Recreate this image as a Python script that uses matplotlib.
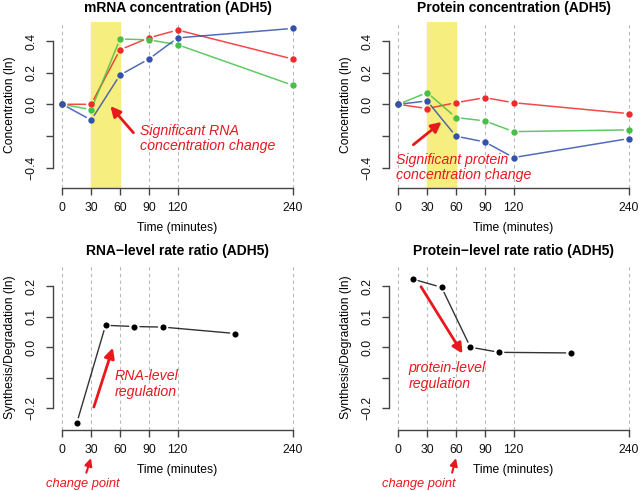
import numpy as np
import matplotlib
matplotlib.use('Agg')
import matplotlib.pyplot as plt

plt.rcParams['font.family'] = ['Liberation Sans', 'DejaVu Sans']

# time points (minutes)
times = [0, 30, 60, 90, 120, 240]
mid_times = [15, 45, 75, 105, 180]
xticks = [0, 30, 60, 90, 120, 240]

# mRNA concentration (ln), three replicates
mrna_red = [0.0, 0.0, 0.345, 0.42, 0.47, 0.286]
mrna_green = [0.0, -0.034, 0.413, 0.408, 0.377, 0.12]
mrna_blue = [0.0, -0.10, 0.185, 0.286, 0.42, 0.48]

# protein concentration (ln)
prot_red = [0.0, -0.027, 0.01, 0.042, 0.01, -0.059]
prot_green = [0.0, 0.074, -0.084, -0.105, -0.173, -0.162]
prot_blue = [0.0, 0.021, -0.202, -0.238, -0.337, -0.217]

# synthesis/degradation rate ratios (ln)
rna_ratio = [-0.25, 0.072, 0.068, 0.066, 0.045]
prot_ratio = [0.224, 0.197, 0.0, -0.017, -0.019]

RED = '#ee2a2a'
GREEN = '#48bf48'
BLUE = '#3452ad'
AX_COL = '#444444'
ANN = '#e8181e'

fig = plt.figure(figsize=(6.4, 4.91), dpi=100)
fig.patch.set_facecolor('white')

def setup(ax, ylim, yticks, ylabels, title, ylabel):
    ax.set_xlim(-9.6, 249.6)
    ax.set_ylim(*ylim)
    for s in ['top', 'right']:
        ax.spines[s].set_visible(False)
    for s in ['left', 'bottom']:
        ax.spines[s].set_color(AX_COL)
        ax.spines[s].set_linewidth(1.0)
    ax.spines['bottom'].set_bounds(0, 240)
    ax.spines['left'].set_bounds(yticks[0], yticks[-1])
    ax.set_xticks(xticks)
    ax.set_xticklabels([str(t) for t in xticks])
    ax.set_yticks(yticks)
    ax.set_yticklabels(ylabels, rotation=90, va='center')
    ax.tick_params(colors=AX_COL, labelcolor='#111111', labelsize=8.7, length=5, width=1.0)
    ax.tick_params(axis='y', pad=6)
    ax.tick_params(axis='x', pad=5)
    for t in xticks:
        ax.axvline(t, color='#b8b8b8', ls=(0, (3, 3)), lw=0.8, zorder=0)
    ax.set_title(title, fontsize=10, fontweight='bold', pad=7)
    ax.set_xlabel('Time (minutes)', fontsize=8.7, labelpad=6)
    ax.set_ylabel(ylabel, fontsize=8.7, labelpad=7)

def gapped(ax, x, y, color, lw=1.1, alpha=0.85, ms=4.6):
    for i in range(len(x) - 1):
        ax.annotate('', xy=(x[i + 1], y[i + 1]), xytext=(x[i], y[i]),
                    arrowprops=dict(arrowstyle='-', color=color, lw=lw, alpha=alpha,
                                    shrinkA=4, shrinkB=4), zorder=2)
    ax.plot(x, y, 'o', color=color, ms=ms, mec='none', zorder=3)

def red_arrow(ax, head, tail, lw=2, hl=0.6, hw=0.3):
    ax.annotate('', xy=head, xytext=tail, annotation_clip=False,
                arrowprops=dict(arrowstyle='-|>,head_length=%g,head_width=%g' % (hl, hw),
                                color=ANN, lw=lw, shrinkA=0, shrinkB=0))

conc_ticks = [-0.4, -0.2, 0.0, 0.2, 0.4]
conc_labels = ['\u22120.4', '', '0.0', '0.2', '0.4']
ratio_ticks = [-0.2, -0.1, 0.0, 0.1, 0.2]
ratio_labels = ['\u22120.2', '', '0.0', '0.1', '0.2']

# ---- top left: mRNA concentration
ax1 = fig.add_axes([0.083, 0.617, 0.389, 0.338])
setup(ax1, (-0.53, 0.52), conc_ticks, conc_labels, 'mRNA concentration (ADH5)', 'Concentration (ln)')
ax1.axvspan(30, 60, color='#f6ee7e', zorder=0.5)
gapped(ax1, times, mrna_red, RED)
gapped(ax1, times, mrna_green, GREEN)
gapped(ax1, times, mrna_blue, BLUE)
red_arrow(ax1, (50, -0.012), (74, -0.18))
ax1.text(81, -0.216, 'Significant RNA\nconcentration change', color=ANN, fontsize=10.2,
         style='italic', va='center', ha='left', linespacing=1.15)

# ---- top right: protein concentration
ax2 = fig.add_axes([0.608, 0.617, 0.389, 0.338])
setup(ax2, (-0.53, 0.52), conc_ticks, conc_labels, 'Protein concentration (ADH5)', 'Concentration (ln)')
ax2.axvspan(30, 60, color='#f6ee7e', zorder=0.5)
gapped(ax2, times, prot_red, RED)
gapped(ax2, times, prot_green, GREEN)
gapped(ax2, times, prot_blue, BLUE)
red_arrow(ax2, (45, -0.112), (15.6, -0.256))
ax2.text(-2, -0.40, 'Significant protein\nconcentration change', color=ANN, fontsize=10.2,
         style='italic', va='center', ha='left', linespacing=1.15)

# ---- bottom left: RNA-level rate ratio
ax3 = fig.add_axes([0.083, 0.124, 0.389, 0.336])
setup(ax3, (-0.273, 0.27), ratio_ticks, ratio_labels, 'RNA\u2212level rate ratio (ADH5)', 'Synthesis/Degradation (ln)')
gapped(ax3, mid_times, rna_ratio, 'black', lw=1.0, alpha=0.8, ms=4.4)
red_arrow(ax3, (52.6, -0.002), (32.8, -0.197))
ax3.text(54.3, -0.122, 'RNA-level\nregulation', color=ANN, fontsize=10.2,
         style='italic', va='center', ha='left', linespacing=1.15)
red_arrow(ax3, (29.8, -0.365), (25.0, -0.413), lw=1.5, hl=0.45, hw=0.22)
ax3.text(21.8, -0.45, 'change point', color=ANN, fontsize=9.3, style='italic',
         ha='center', va='center', clip_on=False)

# ---- bottom right: protein-level rate ratio
ax4 = fig.add_axes([0.608, 0.124, 0.389, 0.336])
setup(ax4, (-0.273, 0.27), ratio_ticks, ratio_labels, 'Protein\u2212level rate ratio (ADH5)', 'Synthesis/Degradation (ln)')
gapped(ax4, mid_times, prot_ratio, 'black', lw=1.0, alpha=0.8, ms=4.4)
red_arrow(ax4, (66.8, -0.021), (23.6, 0.199))
ax4.text(10.7, -0.095, 'protein-level\nregulation', color=ANN, fontsize=10.2,
         style='italic', va='center', ha='left', linespacing=1.15)
red_arrow(ax4, (60.0, -0.365), (56.0, -0.413), lw=1.5, hl=0.45, hw=0.22)
ax4.text(21.8, -0.45, 'change point', color=ANN, fontsize=9.3, style='italic',
         ha='center', va='center', clip_on=False)

fig.savefig('out.png', dpi=100, facecolor='white')
